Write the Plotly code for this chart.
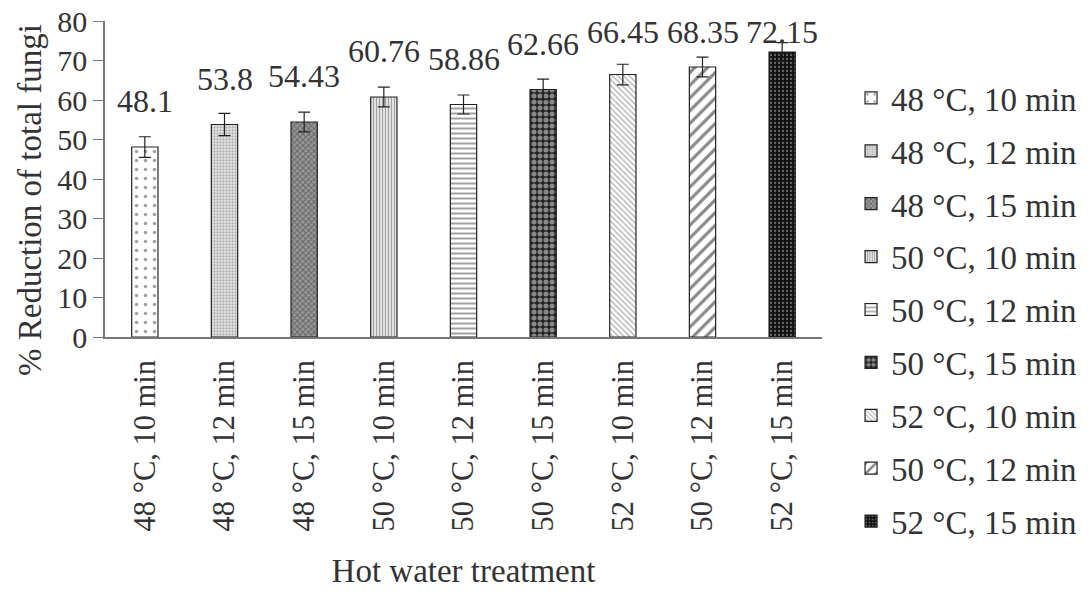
import plotly.graph_objects as go

categories = ["48 °C, 10 min", "48 °C, 12 min", "48 °C, 15 min", "50 °C, 10 min",
              "50 °C, 12 min", "50 °C, 15 min", "52 °C, 10 min", "50 °C, 12 min",
              "52 °C, 15 min"]
values = [48.1, 53.8, 54.43, 60.76, 58.86, 62.66, 66.45, 68.35, 72.15]
errors = [2.6, 2.8, 2.5, 2.5, 2.4, 2.6, 2.6, 2.5, 2.4]
value_labels = ["48.1", "53.8", "54.43", "60.76", "58.86", "62.66", "66.45", "68.35", "72.15"]
y_ticks = [0, 10, 20, 30, 40, 50, 60, 70, 80]

patterns = [
    dict(shape=".", bgcolor="white", fgcolor="#444", size=9, solidity=0.12),
    dict(shape=".", bgcolor="#e6e6e6", fgcolor="#777", size=3, solidity=0.45),
    dict(shape="x", bgcolor="#999", fgcolor="#333", size=4, solidity=0.45),
    dict(shape="|", bgcolor="white", fgcolor="#444", size=3, solidity=0.55),
    dict(shape="-", bgcolor="white", fgcolor="#444", size=5, solidity=0.4),
    dict(shape=".", bgcolor="#222", fgcolor="#eee", size=6, solidity=0.55),
    dict(shape="\\", bgcolor="white", fgcolor="#555", size=4, solidity=0.3),
    dict(shape="/", bgcolor="white", fgcolor="#111", size=9, solidity=0.35),
    dict(shape=".", bgcolor="#111", fgcolor="#bbb", size=4, solidity=0.25),
]

FONT = "Liberation Serif, Times New Roman, serif"
TXT = "#333"

fig = go.Figure()
for i, (cat, v, e) in enumerate(zip(categories, values, errors)):
    fig.add_trace(go.Bar(
        x=[i], y=[v], name=cat, legendgroup=f"g{i}",
        width=0.33,
        marker=dict(color="white", line=dict(color="#222", width=1.2), pattern=patterns[i]),
        error_y=dict(type="data", array=[e], color="#222", thickness=1.2, width=6),
    ))

for i, (v, lab) in enumerate(zip(values, value_labels)):
    fig.add_annotation(x=i, y=min(v + 11.6, 77.2), text=lab, showarrow=False,
                       yanchor="middle", xanchor="center",
                       font=dict(family=FONT, size=32, color=TXT))

# y-axis title as a rotated annotation (placed lower than the plot centre, as in the original)
fig.add_annotation(xref="paper", yref="paper", x=-0.1046, y=0.4335,
                   text="% Reduction of total fungi", textangle=-90, showarrow=False,
                   xanchor="center", yanchor="middle",
                   font=dict(family=FONT, size=33, color=TXT))

fig.update_layout(
    width=1080, height=584,
    margin=dict(l=97, r=266, t=13, b=255, autoexpand=False),
    paper_bgcolor="white", plot_bgcolor="white",
    font=dict(family=FONT, color=TXT),
    showlegend=True,
    legend=dict(x=0.7806, xref="container", y=0.483, yref="container",
                yanchor="middle", xanchor="left",
                maxheight=580,
                font=dict(family=FONT, size=33, color=TXT),
                tracegroupgap=7, itemwidth=30),
    bargap=0.6,
)
fig.update_xaxes(
    range=[-0.5, 8.5], tickvals=list(range(len(categories))), ticktext=categories,
    tickangle=-90, tickfont=dict(family=FONT, size=30.5, color=TXT),
    ticklabelstandoff=9, ticklabeloverflow="allow",
    showline=True, linecolor="#777", linewidth=1.5, ticks="", showgrid=False,
    title=dict(text="Hot water treatment", font=dict(family=FONT, size=33, color=TXT), standoff=28),
    zeroline=False, automargin=False,
)
fig.update_yaxes(
    range=[0, 80], tickvals=y_ticks, ticks="outside", ticklen=10, tickcolor="#777",
    tickfont=dict(family=FONT, size=30, color=TXT), ticklabeloverflow="allow",
    showline=True, linecolor="#777", linewidth=1.5, showgrid=False, zeroline=False,
    automargin=False,
)

fig.write_html("out.html")
